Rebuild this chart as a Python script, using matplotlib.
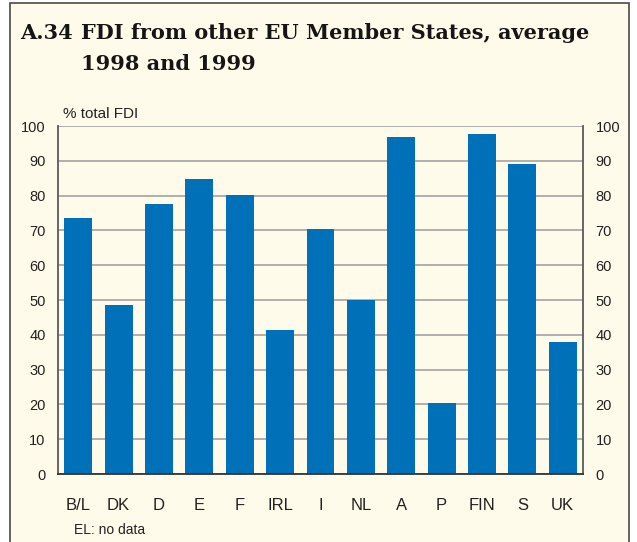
import matplotlib
matplotlib.use("Agg")
import matplotlib.pyplot as plt
from matplotlib.patches import Rectangle

# Share of inward FDI coming from other EU Member States (average 1998-1999)
countries = ["B/L", "DK", "D", "E", "F", "IRL", "I", "NL", "A", "P", "FIN", "S", "UK"]
share_pct = [73.5, 48.7, 77.6, 84.8, 80.2, 41.3, 70.4, 50.0, 96.7, 20.4, 97.6, 89.1, 37.9]
y_ticks = [0, 10, 20, 30, 40, 50, 60, 70, 80, 90, 100]

W, H = 637, 542
cream = "#FFFBEA"
bar_blue = "#0071B9"
grid_grey = "#A3A3A3"
sans = ["Liberation Sans", "DejaVu Sans"]
serif = ["DejaVu Serif"]

fig = plt.figure(figsize=(W / 100, H / 100), dpi=100, facecolor="white")

# cream panel with a dark frame
panel = Rectangle((10 / W, -0.01), 619 / W, (H - 3) / H + 0.01, transform=fig.transFigure,
                  facecolor=cream, edgecolor="#4A4A4A", linewidth=1.2, zorder=-10)
fig.patches.append(panel)

title_kw = dict(fontfamily=serif, fontweight="bold", fontsize=15, color="#151515",
                va="baseline", ha="left")
fig.text(20 / W, (H - 39) / H, "A.34", **title_kw)
fig.text(81 / W, (H - 39) / H, "FDI from other EU Member States, average", **title_kw)
fig.text(81 / W, (H - 70) / H, "1998 and 1999", **title_kw)

ax = fig.add_axes([58 / W, (H - 474) / H, 525 / W, 348 / H])
ax.set_facecolor(cream)
x = list(range(len(countries)))
ax.bar(x, share_pct, width=0.69, color=bar_blue, zorder=3)

ax.set_xlim(-0.5, len(countries) - 0.5)
ax.set_ylim(0, 100)
ax.set_yticks(y_ticks)
ax.set_xticks(x)
ax.set_xticklabels(countries, fontfamily=sans, fontsize=12, color="#222222")
ax.yaxis.grid(True, color=grid_grey, linewidth=1.2, zorder=1)
ax.set_axisbelow(True)
ax.tick_params(axis="y", length=0, pad=9, labelsize=10.5, labelcolor="#222222",
               right=True, labelright=True)
ax.tick_params(axis="x", length=0, pad=17)
for t in ax.yaxis.get_major_ticks():
    t.label1.set_fontfamily(sans)
    t.label2.set_fontfamily(sans)

ax.spines["top"].set_visible(False)
ax.spines["left"].set_color("#5A5A5A")
ax.spines["right"].set_color("#5A5A5A")
ax.spines["bottom"].set_color("#333333")
for s in ("left", "right", "bottom"):
    ax.spines[s].set_linewidth(1.3)
ax.spines["bottom"].set_zorder(4)

ax.text(0.01, 1.015, "% total FDI", transform=ax.transAxes, fontfamily=sans,
        fontsize=11, color="#222222", ha="left", va="bottom")
fig.text(74 / W, (H - 530) / H, "EL: no data", fontfamily=sans, fontsize=10,
         color="#222222", ha="left", va="center")

fig.savefig("out.png", dpi=100, facecolor="white")
